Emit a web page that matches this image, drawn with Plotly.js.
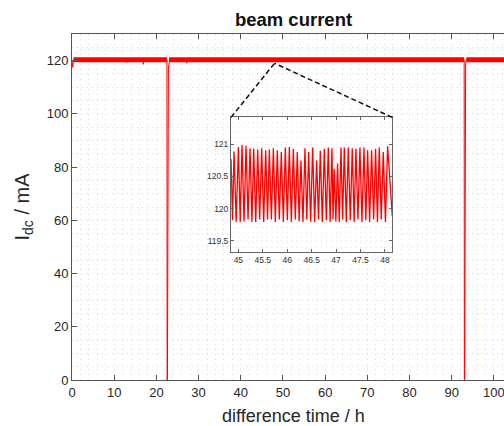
<!DOCTYPE html>
<html>
<head>
<meta charset="utf-8">
<script src="https://cdn.plot.ly/plotly-3.0.1.min.js"></script>
<style>
html,body{margin:0;padding:0;overflow:hidden;background:#fff;}
#chart{width:560px;height:426px;}
</style>
</head>
<body>
<div id="chart"></div>
<script>
// ---- main series (hours, mA) ----
const mainTime = [0, 0.15, 0.35, 12.9, 13.0, 13.1, 16.8, 16.9, 17.0, 22.5, 22.55, 22.62, 22.85, 23.0, 23.15, 27.1, 27.2, 27.3, 92.95, 93.0, 93.08, 93.3, 93.45, 105];
const mainCurrent = [120.3, 117.5, 120.3, 120.3, 119.3, 120.3, 120.3, 118.6, 120.3, 120.3, 0, 0, 117.2, 120.3, 120.3, 120.3, 119.0, 120.3, 120.3, 0, 0, 119.0, 120.3, 120.3];
// top-up band (oscillation envelope) segments
const bandTime = [0.35, 22.5, null, 23.0, 92.95, null, 93.45, 105];
const bandCurrent = [120.3, 120.3, null, 120.3, 120.3, null, 120.3, 120.3];

// ---- inset series ----
const insetTime = [44.85, 44.88, 44.911, 44.956, 45.000, 45.038, 45.075, 45.116, 45.157, 45.198, 45.239, 45.277, 45.314, 45.355, 45.395, 45.436, 45.477, 45.518, 45.559, 45.597, 45.634, 45.675, 45.716, 45.757, 45.797, 45.838, 45.879, 45.920, 45.961, 46.002, 46.043, 46.084, 46.125, 46.166, 46.206, 46.244, 46.281, 46.322, 46.363, 46.400, 46.438, 46.479, 46.520, 46.561, 46.602, 46.640, 46.677, 46.718, 46.759, 46.800, 46.840, 46.878, 46.915, 46.937, 46.960, 46.995, 47.030, 47.065, 47.100, 47.134, 47.168, 47.209, 47.249, 47.290, 47.331, 47.369, 47.406, 47.447, 47.488, 47.529, 47.570, 47.608, 47.645, 47.686, 47.727, 47.768, 47.808, 47.846, 47.883, 47.924, 47.965, 48.010, 48.054, 48.15];
const insetCurrent = [120.77, 119.82, 120.89, 119.79, 120.96, 119.79, 120.99, 119.80, 120.98, 119.83, 120.94, 119.79, 120.93, 119.79, 120.92, 119.83, 120.94, 119.79, 120.91, 119.83, 120.92, 119.83, 120.94, 119.79, 120.91, 119.83, 120.88, 119.79, 120.95, 119.82, 120.96, 119.79, 120.93, 119.83, 120.88, 119.80, 120.75, 119.79, 120.94, 119.83, 120.88, 119.80, 120.95, 119.79, 120.75, 119.83, 120.90, 119.79, 120.93, 119.82, 120.95, 119.79, 120.94, 119.83, 120.62, 119.80, 120.70, 119.79, 120.95, 119.83, 120.95, 119.79, 120.95, 119.82, 120.94, 119.79, 120.93, 119.83, 120.95, 119.79, 120.95, 119.82, 120.91, 119.79, 120.91, 119.83, 120.93, 119.79, 120.95, 119.83, 120.88, 119.79, 120.97, 119.88];

// ---- axes / labels ----
const xRange = [0, 105];
const yRange = [0, 130];
const insetXRange = [44.85, 48.15];
const insetYRange = [119.33, 121.42];
const insetXDomain = [0.359, 0.723];
const insetYDomain = [0.371, 0.759];
const zoomAnchor = [48, 119];   // point on main chart that the inset magnifies

const titleText = 'beam current';
const xTitle = 'difference time / h';
const yTitle = 'I<sub>dc</sub> / mA';

const FONT = 'Liberation Sans, Arial, sans-serif';
const red = '#ff0000';
const gridCol = '#dadada';
const dotDash = '1px,4px';

const ax = (xRange[1]-xRange[0]);
const ay = (yRange[1]-yRange[0]);
const anchorPaper = [(zoomAnchor[0]-xRange[0])/ax, (zoomAnchor[1]-yRange[0])/ay];

const traces = [
  {x: bandTime, y: bandCurrent, type: 'scatter', mode: 'lines', line: {color: red, width: 5}, connectgaps: false, xaxis: 'x', yaxis: 'y', hoverinfo: 'skip'},
  {x: mainTime, y: mainCurrent, type: 'scatter', mode: 'lines', line: {color: red, width: 1}, xaxis: 'x', yaxis: 'y'},
  {x: insetTime, y: insetCurrent, type: 'scatter', mode: 'lines', line: {color: red, width: 1.3}, xaxis: 'x2', yaxis: 'y2'}
];

const layout = {
  width: 560, height: 426,
  margin: {l: 72, r: 45, t: 34, b: 46},
  paper_bgcolor: '#fff', plot_bgcolor: '#fff',
  showlegend: false,
  font: {family: FONT, color: '#262626'},
  title: {text: '<b>' + titleText + '</b>', font: {size: 18.5, family: FONT, color: '#111'}, x: 0.5, xref: 'paper', y: 0.955, yanchor: 'middle'},
  xaxis: {
    range: xRange, dtick: 10, tick0: 0,
    showline: true, linecolor: '#555', linewidth: 1, mirror: 'ticks',
    ticks: 'inside', ticklen: 5, tickcolor: '#555',
    showgrid: true, gridcolor: gridCol, griddash: dotDash, gridwidth: 1,
    minor: {dtick: 2, showgrid: true, gridcolor: gridCol, griddash: dotDash, gridwidth: 1},
    zeroline: false,
    tickfont: {size: 13, color: '#262626'},
    automargin: false
  },
  yaxis: {
    range: yRange, dtick: 20, tick0: 0,
    showline: true, linecolor: '#555', linewidth: 1, mirror: 'ticks',
    ticks: 'inside', ticklen: 5, tickcolor: '#555',
    showgrid: true, gridcolor: gridCol, griddash: dotDash, gridwidth: 1,
    minor: {dtick: 5, showgrid: true, gridcolor: gridCol, griddash: dotDash, gridwidth: 1},
    zeroline: false,
    tickfont: {size: 13, color: '#262626'},
    title: {text: yTitle, font: {size: 20, color: '#262626'}, standoff: 11},
    automargin: false
  },
  xaxis2: {
    domain: insetXDomain, anchor: 'y2', range: insetXRange, dtick: 0.5, tick0: 45,
    showline: true, linecolor: '#666', linewidth: 1, mirror: 'ticks',
    ticks: 'inside', ticklen: 3, tickcolor: '#666',
    showgrid: true, gridcolor: '#e4e4e4', griddash: dotDash,
    minor: {dtick: 0.1, showgrid: true, gridcolor: '#ececec', griddash: dotDash},
    zeroline: false, tickfont: {size: 8.5, color: '#333'}, automargin: false
  },
  yaxis2: {
    domain: insetYDomain, anchor: 'x2', range: insetYRange, dtick: 0.5, tick0: 119.5,
    showline: true, linecolor: '#666', linewidth: 1, mirror: 'ticks',
    ticks: 'inside', ticklen: 3, tickcolor: '#666',
    showgrid: true, gridcolor: '#e4e4e4', griddash: dotDash,
    minor: {dtick: 0.1, showgrid: true, gridcolor: '#ececec', griddash: dotDash},
    zeroline: false, tickfont: {size: 8.5, color: '#333'}, automargin: false
  },
  annotations: [
    {text: xTitle, xref: 'paper', yref: 'paper', x: 0.5, y: -0.104, xanchor: 'center', yanchor: 'middle', showarrow: false, font: {size: 18, color: '#262626', family: FONT}}
  ],
  shapes: [
    {type: 'line', xref: 'paper', yref: 'paper', x0: insetXDomain[0], y0: insetYDomain[1], x1: anchorPaper[0], y1: anchorPaper[1], line: {color: '#111', width: 1.5, dash: '5px,3px'}},
    {type: 'line', xref: 'paper', yref: 'paper', x0: insetXDomain[1], y0: insetYDomain[1], x1: anchorPaper[0], y1: anchorPaper[1], line: {color: '#111', width: 1.5, dash: '5px,3px'}}
  ]
};

Plotly.newPlot('chart', traces, layout, {staticPlot: true, displayModeBar: false});
</script>
</body>
</html>
